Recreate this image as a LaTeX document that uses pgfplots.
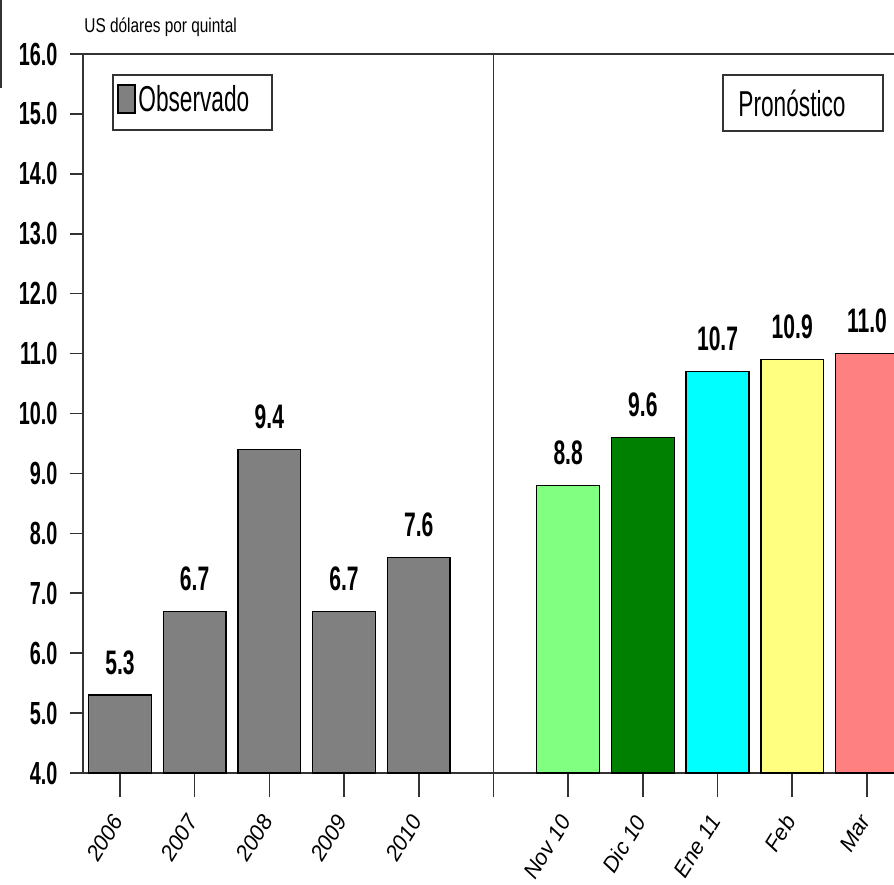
\documentclass[border=0pt]{standalone}
\usepackage{fontspec}
\setmainfont{Liberation Sans}
\newfontfamily\cb[FakeStretch=0.62]{Liberation Sans}
\newfontfamily\cn[FakeStretch=0.77]{Liberation Sans}
\newfontfamily\cl[FakeStretch=0.63]{Liberation Sans}
\usepackage{pgfplots}
\pgfplotsset{compat=1.18}
\definecolor{obs}{HTML}{808080}
\definecolor{cnov}{HTML}{80FF80}
\definecolor{cdic}{HTML}{008000}
\definecolor{cene}{HTML}{00FFFF}
\definecolor{cfeb}{HTML}{FFFF80}
\definecolor{cmar}{HTML}{FF8080}
\definecolor{axc}{HTML}{333333}
\begin{document}
\begin{tikzpicture}
\useasboundingbox (-41.3pt,-55.5pt) rectangle (405.7pt,386.5pt);
\begin{axis}[
  at={(0pt,0pt)}, anchor=south west,
  width=410.85pt, height=359.5pt, scale only axis,
  xmin=-0.5, xmax=10.5, ymin=4, ymax=16,
  ybar, bar width=0.84, bar shift=0pt,
  xtick={0,1,2,3,4,5,6,7,8,9,10},
  xticklabels={2006,2007,2008,2009,2010,{},Nov 10,Dic 10,Ene 11,Feb,Mar},
  ytick={4,5,...,16},
  xtick pos=left, ytick pos=left,
  tick align=outside,
  major tick length=6.5pt,
  xtick style={/pgfplots/major tick length=12pt},
  tick style={axc, line width=0.8pt},
  axis line style={axc, line width=1pt},
  /pgf/number format/assume math mode=true,
  yticklabel style={font=\cb\bfseries\fontsize{16}{16}\selectfont, xshift=-2.5pt,
    /pgf/number format/.cd, fixed, fixed zerofill, precision=1},
  xticklabel shift=14pt,
  xticklabel style={font=\itshape\fontsize{11}{11}\selectfont, rotate=58, anchor=east, xshift=1.5pt},
  every axis plot/.append style={draw=black, line width=0.7pt},
  nodes near coords={\pgfmathprintnumber[fixed,fixed zerofill,precision=1]{\pgfplotspointmeta}},
  nodes near coords style={font=\cb\bfseries\fontsize{17}{17}\selectfont, anchor=south, inner sep=0pt, yshift=10pt, text=black},
]
\addplot[fill=obs] coordinates {(0,5.3) (1,6.7) (2,9.4) (3,6.7) (4,7.6)};
\addplot[fill=cnov] coordinates {(6,8.8)};
\addplot[fill=cdic] coordinates {(7,9.6)};
\addplot[fill=cene] coordinates {(8,10.7)};
\addplot[fill=cfeb] coordinates {(9,10.9)};
\addplot[fill=cmar] coordinates {(10,11.0)};
\draw[axc, line width=0.8pt] (axis cs:5,4) -- (axis cs:5,16);
\end{axis}
\node[anchor=base west, inner sep=0pt, font=\cn\fontsize{10}{10}\selectfont] at (0.7pt,370pt) {US dólares por quintal};
\draw[axc, line width=1pt] (15.2pt,321.5pt) rectangle (94.7pt,349pt);
\draw[black, line width=0.7pt, fill=obs] (17.7pt,330pt) rectangle (26.2pt,344pt);
\node[anchor=base west, inner sep=0pt, font=\cl\fontsize{18}{18}\selectfont] at (27.7pt,330.5pt) {Observado};
\draw[axc, line width=1pt] (320.2pt,321pt) rectangle (400.2pt,349pt);
\node[anchor=base west, inner sep=0pt, font=\cl\fontsize{18}{18}\selectfont] at (327.7pt,328pt) {Pronóstico};
\draw[axc, line width=1.2pt] (-40.7pt,386.5pt) -- (-40.7pt,342.5pt);
\end{tikzpicture}
\end{document}
